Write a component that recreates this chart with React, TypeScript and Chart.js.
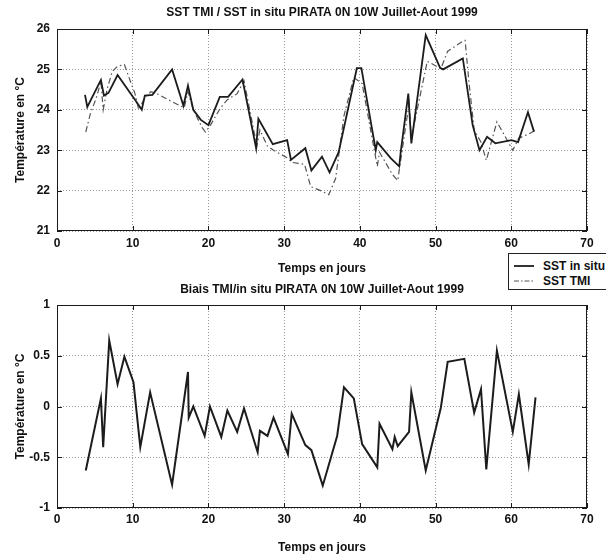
import { useEffect, useRef } from "react";
import { Chart, registerables } from "chart.js";

Chart.register(...registerables);

const FONT = '"Liberation Sans", Arial, Helvetica, sans-serif';

// values (days since start, °C)
const insituDays = [3.7, 4.0, 5.8, 6.2, 6.8, 8.0, 10.3, 11.2, 11.6, 12.6, 15.2, 16.7, 17.3, 18.0, 19.0, 20.0, 21.5, 22.6, 24.5, 26.3, 26.6, 28.5, 30.4, 30.9, 32.8, 33.6, 35.0, 36.0, 37.2, 39.6, 40.2, 42.1, 42.3, 44.1, 45.2, 45.4, 46.4, 46.8, 48.7, 50.6, 51.0, 53.6, 54.9, 55.8, 56.8, 57.9, 60.0, 60.9, 62.2, 63.0];
const insituTemp = [24.37, 24.07, 24.74, 24.35, 24.42, 24.86, 24.25, 24.0, 24.35, 24.37, 25.0, 24.1, 24.6, 24.0, 23.75, 23.62, 24.32, 24.32, 24.75, 23.05, 23.78, 23.15, 23.25, 22.76, 23.05, 22.5, 22.84, 22.45, 22.95, 25.03, 25.03, 23.0, 23.2, 22.8, 22.6, 22.96, 24.4, 23.17, 25.85, 25.04, 25.0, 25.27, 23.62, 23.0, 23.33, 23.17, 23.25, 23.2, 23.94, 23.46];

const tmiDays = [3.8, 4.4, 5.2, 5.8, 6.1, 6.6, 7.3, 8.0, 8.9, 9.7, 10.3, 10.8, 11.6, 12.4, 13.2, 15.2, 16.8, 17.3, 18.0, 19.2, 19.6, 20.2, 21.6, 22.5, 23.8, 24.7, 26.4, 26.8, 27.8, 28.6, 30.5, 31.0, 32.7, 33.5, 34.8, 35.9, 36.8, 37.9, 39.2, 40.3, 42.3, 42.6, 44.3, 45.0, 46.5, 46.8, 48.9, 50.7, 51.6, 53.6, 53.9, 54.4, 55.1, 56.0, 56.7, 58.1, 60.2, 61.0, 62.3, 63.2];
const tmiTemp = [23.45, 23.9, 24.3, 24.7, 24.0, 24.5, 24.95, 25.08, 25.12, 24.7, 24.4, 24.0, 24.3, 24.45, 24.4, 24.2, 24.05, 24.45, 24.0, 23.55, 23.45, 23.6, 24.05, 24.25, 24.4, 24.72, 23.1, 23.5, 23.1, 23.0, 22.8, 22.7, 22.65, 22.1, 22.0, 21.9, 22.3, 23.85, 24.8, 24.65, 22.6, 22.95, 22.4, 22.25, 24.15, 23.3, 25.2, 25.02, 25.45, 25.7, 25.72, 24.7, 23.5, 23.2, 22.75, 23.7, 23.0, 23.3, 23.4, 23.5];

const biasDays = [3.8, 5.8, 6.1, 6.9, 8.0, 8.9, 10.1, 11.0, 12.3, 15.2, 17.3, 17.4, 18.0, 19.5, 20.2, 21.7, 22.5, 23.8, 24.7, 26.5, 26.8, 27.8, 28.6, 30.5, 31.0, 32.8, 33.6, 35.1, 37.0, 37.9, 39.2, 40.3, 42.3, 42.6, 44.3, 44.6, 45.0, 46.5, 46.8, 48.7, 50.7, 51.6, 53.8, 55.1, 56.0, 56.7, 58.1, 60.2, 61.0, 62.3, 63.2];
const biasValues = [-0.63, 0.08, -0.40, 0.65, 0.22, 0.49, 0.24, -0.40, 0.14, -0.77, 0.34, -0.11, 0.0, -0.29, 0.0, -0.30, -0.04, -0.25, -0.02, -0.45, -0.24, -0.29, -0.11, -0.47, -0.07, -0.38, -0.43, -0.78, -0.29, 0.19, 0.08, -0.37, -0.60, -0.17, -0.42, -0.30, -0.39, -0.25, 0.14, -0.63, -0.01, 0.44, 0.47, -0.06, 0.17, -0.62, 0.55, -0.25, 0.12, -0.57, 0.09];

const topTitle = "SST TMI / SST in situ PIRATA 0N 10W Juillet-Aout 1999";
const biasTitle = "Biais TMI/in situ PIRATA 0N 10W Juillet-Aout 1999";
const xLabel = "Temps en jours";
const yLabel = "Température en °C";
const legendLabels = ["SST in situ", "SST TMI"];

const toPoints = (xs: number[], ys: number[]) => xs.map((x, i) => ({ x, y: ys[i] }));

// matlab-ish axes box with small inward ticks
const frameBox = {
  id: "frameBox",
  afterDatasetsDraw(chart: any) {
    const { ctx, chartArea: a, scales } = chart;
    ctx.save();
    ctx.strokeStyle = "#1a1a1a";
    ctx.lineWidth = 1;
    ctx.strokeRect(a.left + 0.5, a.top + 0.5, a.right - a.left - 1, a.bottom - a.top - 1);
    ctx.beginPath();
    scales.x.ticks.forEach((t: any) => {
      const px = Math.round(scales.x.getPixelForValue(t.value)) + 0.5;
      ctx.moveTo(px, a.bottom);
      ctx.lineTo(px, a.bottom - 5);
      ctx.moveTo(px, a.top);
      ctx.lineTo(px, a.top + 5);
    });
    scales.y.ticks.forEach((t: any) => {
      const py = Math.round(scales.y.getPixelForValue(t.value)) + 0.5;
      ctx.moveTo(a.left, py);
      ctx.lineTo(a.left + 5, py);
      ctx.moveTo(a.right, py);
      ctx.lineTo(a.right - 5, py);
    });
    ctx.stroke();
    ctx.restore();
  },
};

interface PanelOpts {
  title: string;
  titlePad: { top: number; bottom: number };
  yMin: number;
  yMax: number;
  yStep: number;
  xAxisHeight: number;
  xTickPad: number;
  xTitlePad: number;
  datasets: any[];
}

function makeConfig(o: PanelOpts): any {
  const tickFont = { family: FONT, size: 12, weight: "bold" as const };
  return {
    type: "line",
    data: { datasets: o.datasets },
    options: {
      responsive: true,
      maintainAspectRatio: false,
      animation: false,
      layout: { padding: { left: 0, right: 19, top: 0, bottom: 0 } },
      plugins: {
        legend: { display: false },
        tooltip: { enabled: false },
        title: {
          display: true,
          text: o.title,
          fullSize: false,
          color: "#111",
          font: { family: FONT, size: 12, weight: "bold" },
          padding: o.titlePad,
        },
      },
      elements: { point: { radius: 0 } },
      scales: {
        x: {
          type: "linear",
          min: 0,
          max: 70,
          ticks: { stepSize: 10, color: "#111", font: tickFont, padding: o.xTickPad, maxRotation: 0 },
          grid: { color: "#9a9a9a", lineWidth: 1, drawTicks: false },
          border: { display: false, dash: [1, 2] },
          title: {
            display: true,
            text: xLabel,
            color: "#111",
            font: tickFont,
            padding: { top: 0, bottom: o.xTitlePad },
          },
          afterFit: (s: any) => {
            s.height = o.xAxisHeight;
          },
        },
        y: {
          min: o.yMin,
          max: o.yMax,
          ticks: {
            stepSize: o.yStep,
            color: "#111",
            font: tickFont,
            padding: 7,
            callback: (v: number) => String(v),
          },
          grid: { color: "#9a9a9a", lineWidth: 1, drawTicks: false },
          border: { display: false, dash: [1, 2] },
          title: {
            display: true,
            text: yLabel,
            color: "#111",
            font: tickFont,
            padding: { top: 13, bottom: 0 },
          },
          afterFit: (s: any) => {
            s.width = 57;
          },
        },
      },
    },
    plugins: [frameBox],
  };
}

function Panel({ top, height, opts }: { top: number; height: number; opts: PanelOpts }) {
  const canvasRef = useRef<HTMLCanvasElement>(null);
  const chartRef = useRef<Chart | null>(null);

  useEffect(() => {
    if (!canvasRef.current) return;
    if (chartRef.current) chartRef.current.destroy();
    chartRef.current = new Chart(canvasRef.current, makeConfig(opts));
    return () => {
      if (chartRef.current) {
        chartRef.current.destroy();
        chartRef.current = null;
      }
    };
  }, []);

  return (
    <div style={{ position: "absolute", left: 0, top, width: 606, height }}>
      <canvas ref={canvasRef} />
    </div>
  );
}

export default function App() {
  const sstOpts: PanelOpts = {
    title: topTitle,
    titlePad: { top: 5, bottom: 9.6 },
    yMin: 21,
    yMax: 26,
    yStep: 1,
    xAxisHeight: 49,
    xTickPad: 5,
    xTitlePad: 4,
    datasets: [
      {
        label: legendLabels[0],
        data: toPoints(insituDays, insituTemp),
        borderColor: "#1c1c1c",
        borderWidth: 1.8,
        tension: 0,
      },
      {
        label: legendLabels[1],
        data: toPoints(tmiDays, tmiTemp),
        borderColor: "#555",
        borderWidth: 1.2,
        borderDash: [6, 3, 1.5, 3],
        tension: 0,
      },
    ],
  };

  const biasOpts: PanelOpts = {
    title: biasTitle,
    titlePad: { top: 2, bottom: 8.6 },
    yMin: -1,
    yMax: 1,
    yStep: 0.5,
    xAxisHeight: 47,
    xTickPad: 4,
    xTitlePad: 0,
    datasets: [
      {
        label: "Biais",
        data: toPoints(biasDays, biasValues),
        borderColor: "#1c1c1c",
        borderWidth: 2,
        tension: 0,
      },
    ],
  };

  const legendRow = (dash: string | undefined, text: string, color: string, w: number) => (
    <div style={{ display: "flex", alignItems: "center", height: 15 }}>
      <svg width={27} height={8} style={{ marginLeft: 5, marginRight: 2 }}>
        <line x1={0} y1={4} x2={20} y2={4} stroke={color} strokeWidth={w} strokeDasharray={dash} />
      </svg>
      <span>{text}</span>
    </div>
  );

  return (
    <div
      style={{
        position: "fixed",
        left: 0,
        top: 0,
        width: 606,
        height: 555,
        background: "#fff",
        overflow: "hidden",
      }}
    >
      <Panel top={0} height={280} opts={sstOpts} />
      <Panel top={280} height={275} opts={biasOpts} />
      <div
        style={{
          position: "absolute",
          left: 508,
          top: 253,
          width: 110,
          height: 37,
          border: "1px solid #222",
          background: "#fff",
          boxSizing: "border-box",
          paddingTop: 4,
          fontFamily: FONT,
          fontSize: 12,
          fontWeight: "bold",
          color: "#111",
          whiteSpace: "nowrap",
        }}
      >
        {legendRow(undefined, legendLabels[0], "#1c1c1c", 1.8)}
        {legendRow("5 2 1.5 2", legendLabels[1], "#555", 1.2)}
      </div>
    </div>
  );
}
